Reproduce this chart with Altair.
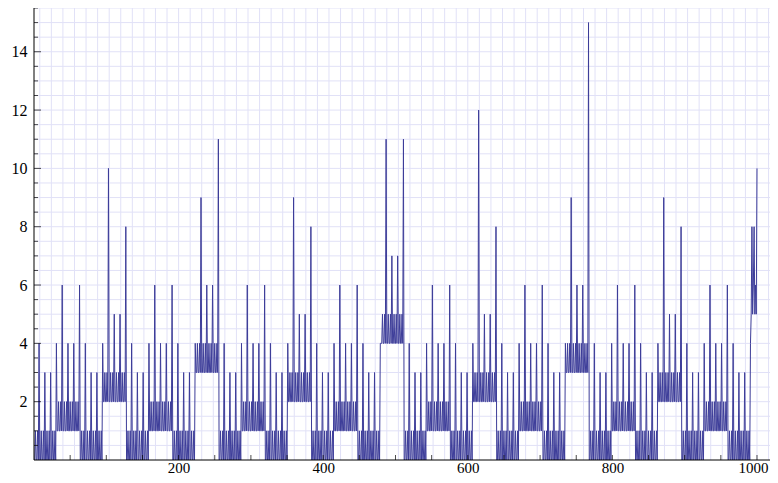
import altair as alt
import pandas as pd

# ---- values ----
# base level of each block of 32 points (blocks k = 0..31)
BLOCK_BASE = [0, 1, 0, 2, 0, 1, 0, 3, 0, 1, 0, 2, 0, 1, 0, 4,
              0, 1, 0, 2, 0, 1, 0, 3, 0, 1, 0, 2, 0, 1, 0, 5]
# step above the base inside a block (offsets 0..31)
BAND = [0, 0, 1, 0, 0, 1, 0, 1, 0, 0, 1, 0, 0, 1, 0, 1,
        0, 0, 1, 0, 0, 1, 0, 1, 0, 0, 1, 0, 0, 1, 0, 1]
# offsets of the four spikes inside every block
SPIKE_OFFSETS = [7, 15, 23, 31]
# spike heights of blocks 0..30
SPIKES = [
    [4, 3, 3, 4], [6, 4, 4, 6], [4, 3, 3, 4], [10, 5, 5, 8],
    [4, 3, 3, 4], [6, 4, 4, 6], [4, 3, 3, 4], [9, 6, 6, 11],
    [4, 3, 3, 4], [6, 4, 4, 6], [4, 3, 3, 4], [9, 5, 5, 8],
    [4, 3, 3, 4], [6, 4, 4, 6], [4, 3, 3, 4], [11, 7, 7, 11],
    [4, 3, 3, 4], [6, 4, 4, 6], [4, 3, 3, 4], [12, 5, 5, 8],
    [4, 3, 3, 4], [6, 4, 4, 6], [4, 3, 3, 4], [9, 6, 6, 15],
    [4, 3, 3, 4], [6, 4, 4, 6], [4, 3, 3, 4], [9, 5, 5, 8],
    [4, 3, 3, 4], [6, 4, 4, 6], [4, 3, 3, 4],
]
# last (partial) block, n = 992..1000
LAST_BLOCK = [5, 8, 5, 6, 8, 5, 6, 5, 10]
N_MAX = 1000

X_LABELS = [200, 400, 600, 800, 1000]
Y_LABELS = [2, 4, 6, 8, 10, 12, 14]

# ---- table built from the arrays above ----
rows = []
for n in range(1, N_MAX + 1):
    k, j = divmod(n, 32)
    if k == 31:
        v = LAST_BLOCK[j]
    elif j in SPIKE_OFFSETS:
        v = SPIKES[k][SPIKE_OFFSETS.index(j)]
    else:
        v = BLOCK_BASE[k] + BAND[j]
    rows.append({"n": n, "v": v})
df = pd.DataFrame(rows)

XMAX = 1018
YMAX = 15.5
xs = alt.Scale(domain=[0, XMAX], nice=False, zero=False)
ys = alt.Scale(domain=[0, YMAX], nice=False, zero=False)

GRID_COL = "#e1e1f7"
FONT = "Liberation Serif"

AX_X = alt.Axis(values=X_LABELS, grid=False, domain=False, ticks=False, format="d",
                labelFont=FONT, labelFontSize=15, labelColor="#000",
                labelPadding=0, title=None,
                labelOffset=alt.expr("datum.value >= 1000 ? -4 : 0"))
AX_Y = alt.Axis(values=Y_LABELS, grid=False, domain=False, ticks=False, format="d",
                labelFont=FONT, labelFontSize=16, labelColor="#000",
                labelPadding=7, title=None)

gx = pd.DataFrame({"g": list(range(8, XMAX, 16))})
gy = pd.DataFrame({"g": [i * 0.5 for i in range(1, 32)]})

grid_v = alt.Chart(gx).mark_rule(color=GRID_COL, strokeWidth=1).encode(
    x=alt.X("g:Q", scale=xs, axis=AX_X))
grid_h = alt.Chart(gy).mark_rule(color=GRID_COL, strokeWidth=1).encode(
    y=alt.Y("g:Q", scale=ys, axis=AX_Y))

line = alt.Chart(df).mark_line(color="#3d3d99", strokeWidth=1, clip=True).encode(
    x=alt.X("n:Q", scale=xs, axis=AX_X),
    y=alt.Y("v:Q", scale=ys, axis=AX_Y),
)

x_axis_line = alt.Chart(pd.DataFrame({"a": [0]})).mark_rule(color="black", strokeWidth=1).encode(
    y=alt.YDatum(0, scale=ys, axis=AX_Y))
y_axis_line = alt.Chart(pd.DataFrame({"a": [0]})).mark_rule(color="black", strokeWidth=1).encode(
    x=alt.XDatum(0, scale=xs, axis=AX_X))

xt = pd.DataFrame({"t": list(range(50, 1001, 50))})
x_ticks = alt.Chart(xt).mark_tick(orient="vertical", color="black", size=5,
                                  thickness=1, yOffset=-2.5).encode(
    x=alt.X("t:Q", scale=xs, axis=AX_X), y=alt.YDatum(0, scale=ys, axis=AX_Y))

ytm = pd.DataFrame({"t": [i * 0.5 for i in range(1, 32) if (i * 0.5) % 2 != 0]})
ytM = pd.DataFrame({"t": Y_LABELS})
y_ticks_minor = alt.Chart(ytm).mark_tick(orient="horizontal", color="black", size=4,
                                         thickness=1, xOffset=2).encode(
    y=alt.Y("t:Q", scale=ys, axis=AX_Y), x=alt.XDatum(0, scale=xs, axis=AX_X))
y_ticks_major = alt.Chart(ytM).mark_tick(orient="horizontal", color="black", size=7,
                                         thickness=1, xOffset=3.5).encode(
    y=alt.Y("t:Q", scale=ys, axis=AX_Y), x=alt.XDatum(0, scale=xs, axis=AX_X))

chart = alt.layer(
    grid_v, grid_h, line, x_axis_line, y_axis_line, x_ticks, y_ticks_minor, y_ticks_major
).properties(
    width=736, height=452,
    autosize=alt.AutoSizeParams(type="none"),
    padding={"left": 26, "top": 0, "right": 0, "bottom": 15},
).configure_view(stroke=None)

chart.save("out.html", embed_options={"renderer": "svg", "actions": False})
